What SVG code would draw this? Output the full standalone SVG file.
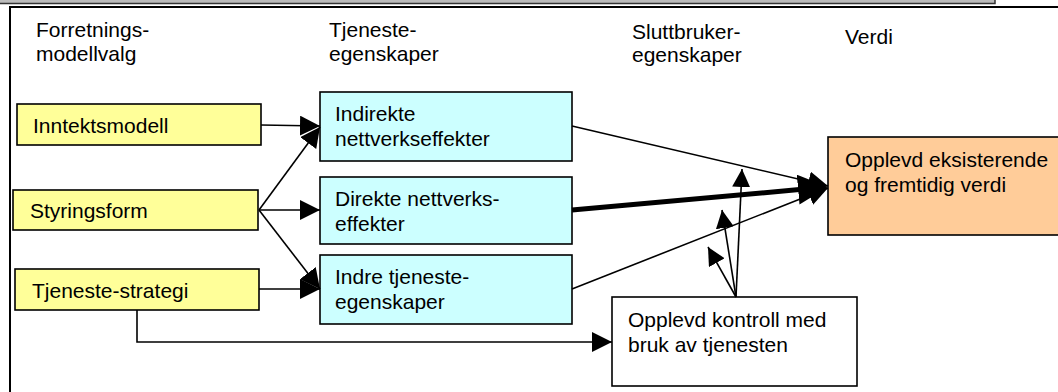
<svg xmlns="http://www.w3.org/2000/svg" width="1058" height="392" viewBox="0 0 1058 392">
<style>
text{font-family:"Liberation Sans",Arial,sans-serif;font-size:21px;fill:#000}
.box{stroke:#000;stroke-width:1.6}
.y{fill:#FFFF99}.b{fill:#CCFFFF}.o{fill:#FFCC99}.w{fill:#fff}
.c{fill:none;stroke:#000;stroke-width:1.6}
</style>
<defs>
<marker id="a" markerUnits="userSpaceOnUse" markerWidth="22" markerHeight="22" refX="20" refY="10" orient="auto" viewBox="0 0 22 22"><path d="M0,0 L20,10 L0,20 z" fill="#000"/></marker>
<marker id="m" markerUnits="userSpaceOnUse" markerWidth="20" markerHeight="20" refX="18" refY="9" orient="auto" viewBox="0 0 20 20"><path d="M0,0 L18,9 L0,18 z" fill="#000"/></marker>
<marker id="big" markerUnits="userSpaceOnUse" markerWidth="32" markerHeight="32" refX="12" refY="15" orient="auto" viewBox="0 0 32 32"><path d="M0,0 L30,15 L0,30 z" fill="#000"/></marker>
</defs>
<rect width="1058" height="392" fill="#fff"/>
<g id="frame">
<rect x="-5" y="-5" width="1000" height="8.5" fill="#bbb" stroke="#333" stroke-width="1.5"/>
<rect x="10" y="7" width="1060" height="400" fill="none" stroke="#000" stroke-width="2"/>
</g>
<g id="headers">
<text x="36" y="37">Forretnings-</text><text x="36" y="61">modellvalg</text>
<text x="329" y="37">Tjeneste-</text><text x="329" y="61">egenskaper</text>
<text x="632" y="39">Sluttbruker-</text><text x="632" y="62">egenskaper</text>
<text x="845" y="44">Verdi</text>
</g>
<g id="n-inntekt"><rect class="box y" x="17" y="104" width="244" height="41"/><text x="33" y="133">Inntektsmodell</text></g>
<g id="n-styring"><rect class="box y" x="13" y="190" width="245" height="40"/><text x="30" y="218">Styringsform</text></g>
<g id="n-strategi"><rect class="box y" x="15" y="269" width="244" height="41"/><text x="32" y="298">Tjeneste-strategi</text></g>
<g id="n-indirekte"><rect class="box b" x="320" y="92" width="252" height="69"/><text x="335" y="121">Indirekte</text><text x="335" y="146">nettverkseffekter</text></g>
<g id="n-direkte"><rect class="box b" x="320" y="177" width="252" height="67"/><text x="335" y="206">Direkte nettverks-</text><text x="335" y="231">effekter</text></g>
<g id="n-indre"><rect class="box b" x="320" y="255" width="252" height="69"/><text x="335" y="284">Indre tjeneste-</text><text x="335" y="309">egenskaper</text></g>
<g id="n-verdi"><rect class="box o" x="828" y="137" width="240" height="98"/><text x="845" y="167">Opplevd eksisterende</text><text x="845" y="192">og fremtidig verdi</text></g>
<g id="n-kontroll"><rect class="box w" x="612" y="297" width="245" height="89"/><text x="628" y="327">Opplevd kontroll med</text><text x="628" y="352">bruk av tjenesten</text></g>
<g id="connectors">
<line class="c" x1="261" y1="125" x2="320" y2="126" marker-end="url(#a)"/>
<line class="c" x1="259" y1="210" x2="320" y2="127" marker-end="url(#a)"/>
<line class="c" x1="259" y1="210" x2="320" y2="210" marker-end="url(#a)"/>
<line class="c" x1="259" y1="210" x2="320" y2="289" marker-end="url(#a)"/>
<line class="c" x1="259" y1="289" x2="320" y2="289" marker-end="url(#a)"/>
<path class="c" d="M137,310 V342 H612" marker-end="url(#a)"/>
<line class="c" x1="572" y1="126" x2="828" y2="186" marker-end="url(#a)"/>
<line class="c" x1="572" y1="289" x2="828" y2="188" marker-end="url(#a)"/>
<line x1="572" y1="210" x2="810.1" y2="188.6" stroke="#000" stroke-width="5" marker-end="url(#big)"/>
<line class="c" x1="736" y1="297" x2="742" y2="169" marker-end="url(#m)"/>
<line class="c" x1="736" y1="297" x2="722" y2="210" marker-end="url(#m)"/>
<line class="c" x1="736" y1="297" x2="708" y2="247" marker-end="url(#m)"/>
</g>
</svg>
